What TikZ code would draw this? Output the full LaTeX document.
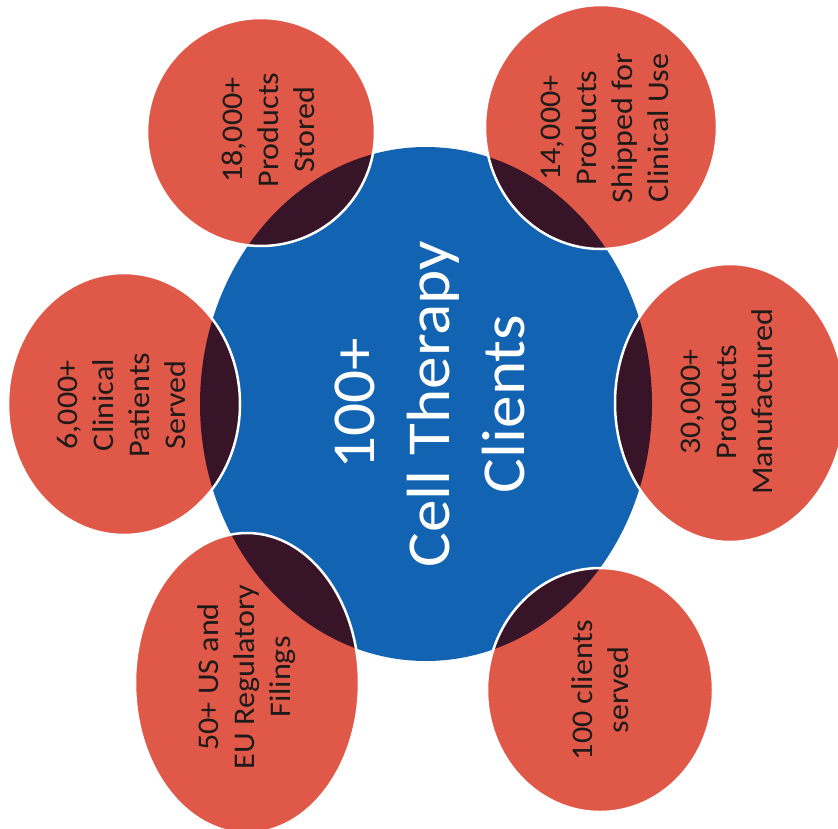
\documentclass[tikz,border=0pt]{standalone}
\usepackage{fontspec}
\setmainfont{Carlito}
\definecolor{hubblue}{HTML}{1264B2}
\definecolor{satred}{HTML}{E05848}
\definecolor{lensdark}{HTML}{371428}
\definecolor{labeldark}{HTML}{1E1A1A}
\begin{document}
\begin{tikzpicture}[x=1pt,y=-1pt,
  hubtext/.style={text=white, align=center, font=\fontsize{61}{75}\selectfont,
    inner sep=0pt, yscale=1.07, rotate=90},
  sattext/.style={text=labeldark, align=center, font=\fontsize{30}{36}\selectfont,
    inner sep=0pt, yscale=1.07, rotate=90},
  rim/.style={draw=white, line width=2.5pt}]
\useasboundingbox (0,0) rectangle (838,828);
\fill[white] (0,0) rectangle (838,828);

% central hub
\coordinate (hub) at (426,404);
\fill[hubblue] (hub) ellipse [x radius=226pt, y radius=257pt];

% satellites: each overlap with the hub is shaded dark
\foreach \cx/\cy/\rx/\ry in {261/132/114/114, 601/127/116/122, 730/403/115/139,
                             124/404/116/131, 247/683/112/150, 600/690/113/122}{
  \fill[satred] (\cx,\cy) ellipse [x radius=\rx pt, y radius=\ry pt];
  \begin{scope}
    \clip (\cx,\cy) ellipse [x radius=\rx pt, y radius=\ry pt];
    \fill[lensdark] (hub) ellipse [x radius=226pt, y radius=257pt];
  \end{scope}
  \draw[rim] (\cx,\cy) ellipse [x radius=\rx pt, y radius=\ry pt];
}

% labels
\node[hubtext] (core) at (430,404) {100+\\Cell Therapy\\Clients};
\node[sattext] (stored) at (268,130) {18,000+\\Products\\Stored};
\node[sattext] (shipped) at (605,128) {14,000+\\Products\\Shipped for\\Clinical Use};
\node[sattext] (made) at (727,402) {30,000+\\Products\\Manufactured};
\node[sattext] (patients) at (121,405) {6,000+\\Clinical\\Patients\\Served};
\node[sattext] (filings) at (247,677) {50+ US and\\EU Regulatory\\Filings};
\node[sattext] (clients) at (600,690) {100 clients\\served};
\end{tikzpicture}
\end{document}
